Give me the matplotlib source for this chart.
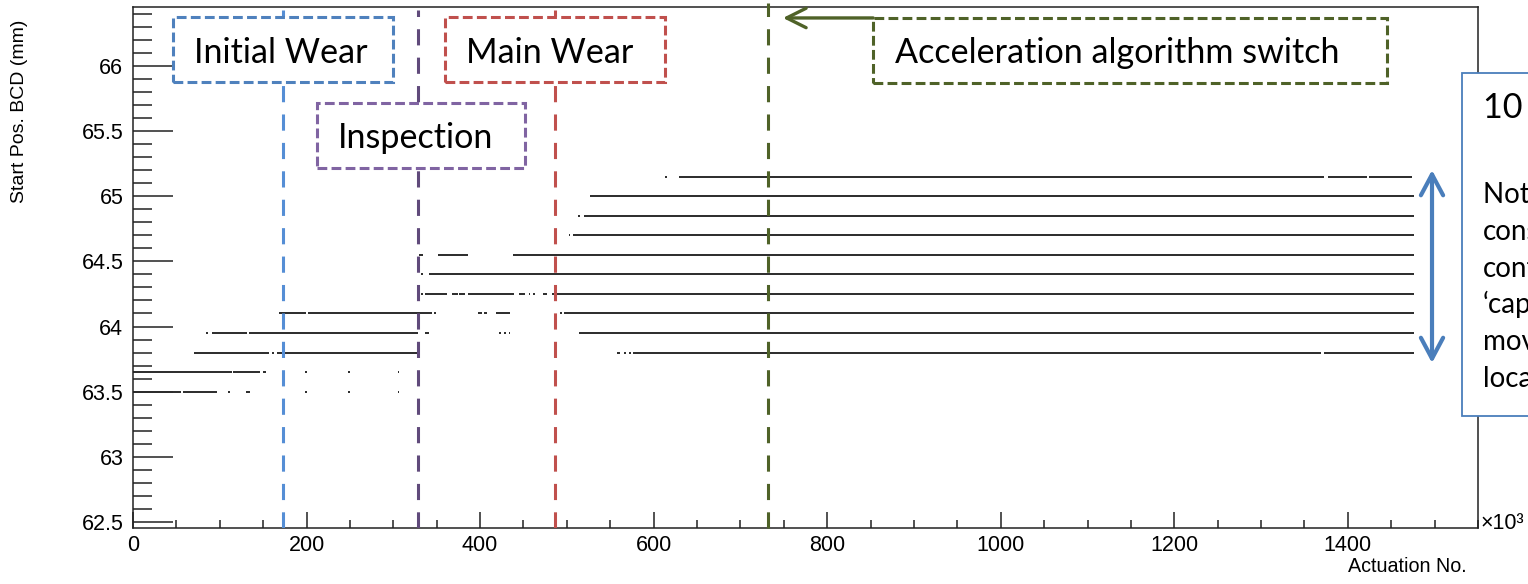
import matplotlib.pyplot as plt
from matplotlib.patches import Rectangle
from matplotlib.ticker import MultipleLocator, FormatStrFormatter

plt.rcParams['font.family'] = 'Liberation Sans'

# start position levels (mm) and actuation ranges (x10^3) where each level was recorded
levels = [63.5, 63.65, 63.8, 63.95, 64.1, 64.25, 64.4, 64.55, 64.7, 64.85, 65.0, 65.15]
runs = [
    [(0, 55), (58, 97), (110, 112), (130, 135), (198, 200), (248, 250), (305, 307)],
    [(0, 114), (115, 146), (150, 153), (198, 200), (248, 250), (305, 307)],
    [(70, 157), (160, 162), (166, 328), (558, 561), (566, 568), (572, 574), (576, 1369), (1372, 1476)],
    [(84, 86), (91, 131), (134, 328), (336, 341), (422, 424), (428, 430), (433, 435), (514, 1476)],
    [(168, 199), (202, 345), (347, 349), (398, 402), (405, 408), (418, 434), (492, 494), (497, 1476)],
    [(332, 334), (337, 362), (368, 374), (376, 383), (386, 439), (445, 452), (456, 458), (461, 463),
     (472, 477), (483, 1476)],
    [(332, 334), (341, 1476)],
    [(330, 334), (351, 386), (438, 1476)],
    [(502, 504), (507, 1476)],
    [(513, 515), (520, 1476)],
    [(527, 1476)],
    [(613, 615), (629, 1373), (1377, 1422), (1424, 1474)],
]

# phase boundaries (x10^3 actuations)
phase_names = ["Initial Wear", "Inspection", "Main Wear", "Acceleration algorithm switch"]
phase_x = [173, 329, 486, 732]
phase_colors = ['#558ED5', '#604A7B', '#C0504D', '#4F6228']
box_colors = ['#4F81BD', '#8064A2', '#C0504D', '#4F6228']

fig = plt.figure(figsize=(15.28, 5.84), dpi=100)
ax = fig.add_axes([133 / 1528, 56 / 584, 1345 / 1528, 521 / 584])

for y, segs in zip(levels, runs):
    ax.hlines([y] * len(segs), [s for s, _ in segs], [e for _, e in segs],
              color='#2b2b2b', lw=1.4, zorder=2)

ax.set_xlim(0, 1550)
ax.set_ylim(62.455, 66.45)

# dashed phase markers
for i in range(3):
    ax.axvline(phase_x[i], ymin=0, ymax=0.995, color=phase_colors[i], lw=2.2,
               ls=(0, (5.3, 4)), zorder=3)
ax.axvline(phase_x[3], ymin=0, ymax=1.008, color=phase_colors[3], lw=2.2,
           ls=(0, (5.3, 4)), zorder=3, clip_on=False)

# label boxes: (x0, x1, y0, y1, text x, text baseline)
boxes = [
    (46, 300, 65.875, 66.374, 170, 66.021),
    (212, 452, 65.216, 65.714, 326, 65.369),
    (360, 613, 65.875, 66.374, 480, 66.021),
    (853, 1445, 65.868, 66.366, 1134, 66.021),
]
for (x0, x1, y0, y1, tx, ty), name, c in zip(boxes, phase_names, box_colors):
    ax.add_patch(Rectangle((x0, y0), x1 - x0, y1 - y0, facecolor='white', edgecolor=c,
                           lw=2.2, ls=(0, (3.2, 1.4)), zorder=5, clip_on=False))
    ax.text(tx, ty, name, ha='center', va='baseline', fontsize=24.6, family='Lato', zorder=6)

ax.annotate('', xy=(749, 66.366), xytext=(853, 66.366), annotation_clip=False,
            arrowprops=dict(arrowstyle='->,head_length=1.4,head_width=0.7',
                            color='#4F6228', lw=2.4, shrinkA=0, shrinkB=0), zorder=6)

ax.annotate('', xy=(1497, 65.20), xytext=(1497, 63.72), annotation_clip=False,
            arrowprops=dict(arrowstyle='<->,head_length=1.5,head_width=0.8',
                            color='#4A7EBB', lw=3, shrinkA=0, shrinkB=0), zorder=6)

# axes cosmetics, ROOT style
ax.xaxis.set_major_locator(MultipleLocator(200))
ax.xaxis.set_minor_locator(MultipleLocator(50))
ax.yaxis.set_major_locator(MultipleLocator(0.5))
ax.yaxis.set_minor_locator(MultipleLocator(0.1))
ax.xaxis.set_major_formatter(FormatStrFormatter('%g'))
ax.yaxis.set_major_formatter(FormatStrFormatter('%g'))
ax.tick_params(which='both', direction='in', width=1.1, color='#222222', labelsize=15.5)
ax.tick_params(axis='y', which='major', length=29, pad=7)
ax.tick_params(axis='y', which='minor', length=14)
ax.tick_params(axis='x', which='major', length=11.5, pad=5)
ax.tick_params(axis='x', which='minor', length=5.8)
for s in ax.spines.values():
    s.set_linewidth(1.1)
    s.set_color('#222222')

fig.text(20 / 1528, 1 - 20 / 584, "Start Pos. BCD (mm)", rotation=90, ha='center', va='top',
         fontsize=14)
fig.text(1467 / 1528, 1 - 567 / 584, "Actuation No.", ha='right', va='center', fontsize=14.2)
fig.text(1481 / 1528, 1 - 529 / 584, "×10³", ha='left', va='baseline', fontsize=15.5)

# side note, partly cut off by the figure edge
fig.add_artist(Rectangle((1462 / 1528, 1 - 416 / 584), 0.1, 343 / 584, transform=fig.transFigure,
                         facecolor='white', edgecolor='#4A7EBB', lw=1.3))
fig.text(1483 / 1528, 1 - 118 / 584, "10 discrete levels", ha='left', va='baseline',
         fontsize=24.6, family='Lato')
note = ["Note the", "consistent", "contact", "‘captured’", "movement", "locations"]
for i, line in enumerate(note):
    fig.text(1483 / 1528, 1 - (203 + 36.8 * i) / 584, line, ha='left', va='baseline',
             fontsize=20, family='Lato')

fig.savefig('out.png', dpi=100)
